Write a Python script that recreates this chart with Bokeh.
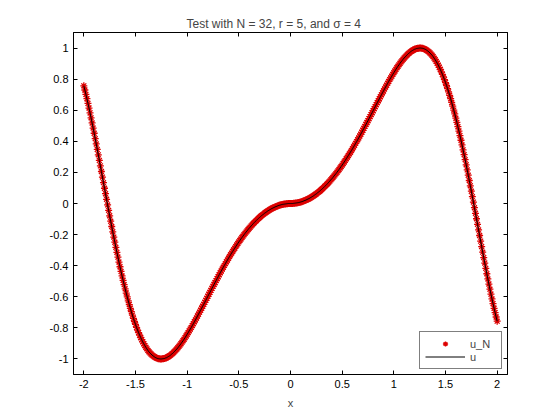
import numpy as np
from bokeh.plotting import figure
from bokeh.models import Range1d, LinearAxis, FixedTicker, Legend, LegendItem, ColumnDataSource
from bokeh.embed import file_html
from bokeh.resources import INLINE

# ---- data -------------------------------------------------------------
x_start, x_stop, n_points = -2.0, 2.0, 401
x_values = np.round(np.linspace(x_start, x_stop, n_points), 2)

u_N_values = [
    0.757, 0.730, 0.702, 0.674, 0.644, 0.614, 0.583, 0.551, 0.518, 0.485, 0.452,
    0.417, 0.383, 0.348, 0.313, 0.277, 0.242, 0.206, 0.170, 0.134, 0.098,
    0.063, 0.027, -0.009, -0.044, -0.079, -0.114, -0.148, -0.182, -0.216, -0.249,
    -0.282, -0.314, -0.345, -0.377, -0.407, -0.437, -0.466, -0.494, -0.522, -0.549,
    -0.576, -0.601, -0.626, -0.650, -0.674, -0.696, -0.718, -0.739, -0.759, -0.778,
    -0.797, -0.814, -0.831, -0.847, -0.862, -0.876, -0.890, -0.902, -0.914, -0.925,
    -0.935, -0.945, -0.954, -0.961, -0.968, -0.975, -0.980, -0.985, -0.990, -0.993,
    -0.996, -0.998, -0.999, -1.000, -1.000, -0.999, -0.998, -0.997, -0.994, -0.992,
    -0.988, -0.984, -0.980, -0.975, -0.969, -0.964, -0.957, -0.950, -0.943, -0.936,
    -0.928, -0.919, -0.911, -0.902, -0.892, -0.883, -0.873, -0.863, -0.852, -0.841,
    -0.831, -0.819, -0.808, -0.797, -0.785, -0.773, -0.761, -0.749, -0.737, -0.724,
    -0.712, -0.699, -0.687, -0.674, -0.661, -0.649, -0.636, -0.623, -0.610, -0.597,
    -0.584, -0.572, -0.559, -0.546, -0.533, -0.521, -0.508, -0.496, -0.483, -0.471,
    -0.458, -0.446, -0.434, -0.422, -0.410, -0.398, -0.387, -0.375, -0.364, -0.352,
    -0.341, -0.330, -0.319, -0.309, -0.298, -0.288, -0.277, -0.267, -0.257, -0.247,
    -0.238, -0.228, -0.219, -0.210, -0.201, -0.192, -0.184, -0.176, -0.167, -0.159,
    -0.152, -0.144, -0.137, -0.129, -0.122, -0.115, -0.109, -0.102, -0.096, -0.090,
    -0.084, -0.078, -0.073, -0.068, -0.062, -0.058, -0.053, -0.048, -0.044, -0.040,
    -0.036, -0.032, -0.029, -0.026, -0.022, -0.020, -0.017, -0.014, -0.012, -0.010,
    -0.008, -0.006, -0.005, -0.004, -0.003, -0.002, -0.001, 0.000, 0.000,
    0.000,
    0.000, 0.000, 0.001, 0.002, 0.003, 0.004, 0.005, 0.006, 0.008,
    0.010, 0.012, 0.014, 0.017, 0.020, 0.022, 0.026, 0.029, 0.032, 0.036,
    0.040, 0.044, 0.048, 0.053, 0.058, 0.062, 0.068, 0.073, 0.078, 0.084,
    0.090, 0.096, 0.102, 0.109, 0.115, 0.122, 0.129, 0.137, 0.144, 0.152,
    0.159, 0.167, 0.176, 0.184, 0.192, 0.201, 0.210, 0.219, 0.228, 0.238,
    0.247, 0.257, 0.267, 0.277, 0.288, 0.298, 0.309, 0.319, 0.330, 0.341,
    0.352, 0.364, 0.375, 0.387, 0.398, 0.410, 0.422, 0.434, 0.446, 0.458,
    0.471, 0.483, 0.496, 0.508, 0.521, 0.533, 0.546, 0.559, 0.572, 0.584,
    0.597, 0.610, 0.623, 0.636, 0.649, 0.661, 0.674, 0.687, 0.699, 0.712,
    0.724, 0.737, 0.749, 0.761, 0.773, 0.785, 0.797, 0.808, 0.819, 0.831,
    0.841, 0.852, 0.863, 0.873, 0.883, 0.892, 0.902, 0.911, 0.919, 0.928,
    0.936, 0.943, 0.950, 0.957, 0.964, 0.969, 0.975, 0.980, 0.984, 0.988,
    0.992, 0.994, 0.997, 0.998, 0.999, 1.000, 1.000, 0.999, 0.998, 0.996,
    0.993, 0.990, 0.985, 0.980, 0.975, 0.968, 0.961, 0.954, 0.945, 0.935,
    0.925, 0.914, 0.902, 0.890, 0.876, 0.862, 0.847, 0.831, 0.814, 0.797,
    0.778, 0.759, 0.739, 0.718, 0.696, 0.674, 0.650, 0.626, 0.601, 0.576,
    0.549, 0.522, 0.494, 0.466, 0.437, 0.407, 0.377, 0.345, 0.314, 0.282,
    0.249, 0.216, 0.182, 0.148, 0.114, 0.079, 0.044, 0.009, -0.027, -0.063,
    -0.098, -0.134, -0.170, -0.206, -0.242, -0.277, -0.313, -0.348, -0.383, -0.417,
    -0.452, -0.485, -0.518, -0.551, -0.583, -0.614, -0.644, -0.674, -0.702, -0.730, -0.757,
]
u_values = list(u_N_values)  # exact solution coincides with u_N at plot resolution

x_ticks = [-2, -1.5, -1, -0.5, 0, 0.5, 1, 1.5, 2]
x_tick_labels = ["-2", "-1.5", "-1", "-0.5", "0", "0.5", "1", "1.5", "2"]
y_ticks = [-1, -0.8, -0.6, -0.4, -0.2, 0, 0.2, 0.4, 0.6, 0.8, 1]
y_tick_labels = ["-1", "-0.8", "-0.6", "-0.4", "-0.2", "0", "0.2", "0.4", "0.6", "0.8", "1"]

title_text = "Test with N = 32, r = 5, and \u03c3 = 4"
series_labels = ["u_N", "u"]

FONT = "Liberation Sans"

# ---- figure -----------------------------------------------------------
p = figure(width=560, height=420, output_backend="svg", toolbar_location=None,
           x_range=Range1d(-2.1, 2.1), y_range=Range1d(-1.1, 1.1),
           min_border_left=73, min_border_right=53, min_border_top=32,
           min_border_bottom=46)
p.background_fill_color = "white"
p.border_fill_color = "white"
p.outline_line_color = "black"
p.outline_line_width = 1
p.xgrid.visible = False
p.ygrid.visible = False

p.title.text = title_text
p.title.text_font = FONT
p.title.text_font_size = "12px"
p.title.text_font_style = "normal"
p.title.align = "left"
p.title.offset = 113
p.title.standoff = 0
p.title.vertical_align = "top"

src = ColumnDataSource(dict(x=x_values, uN=u_N_values, u=u_values))

r_pts = p.scatter("x", "uN", source=src, marker="asterisk", size=7,
                  line_color="#dd0000", line_width=1.3)
r_line = p.line("x", "u", source=src, line_color="black", line_width=1)


def style_axis(ax, ticks, labels, show_labels=True):
    ax.ticker = FixedTicker(ticks=ticks)
    ax.axis_line_color = "black"
    ax.major_tick_line_color = "black"
    ax.major_tick_in = 4
    ax.major_tick_out = 0
    ax.minor_tick_line_color = None
    ax.major_label_text_font = FONT
    if show_labels:
        ax.major_label_overrides = {t: l for t, l in zip(ticks, labels)}
        ax.major_label_text_font_size = "11px"
        ax.major_label_text_color = "black"
        ax.major_label_standoff = 5
    else:
        ax.major_label_text_font_size = "4px"
        ax.major_label_text_color = None
        ax.major_label_standoff = 0


style_axis(p.xaxis[0], x_ticks, x_tick_labels)
style_axis(p.yaxis[0], y_ticks, y_tick_labels)
p.xaxis[0].axis_label = "x"
p.xaxis[0].axis_label_text_font = FONT
p.xaxis[0].axis_label_text_font_size = "11px"
p.xaxis[0].axis_label_text_font_style = "normal"
p.xaxis[0].axis_label_standoff = 6

top_ax = LinearAxis()
style_axis(top_ax, x_ticks, x_tick_labels, show_labels=False)
p.add_layout(top_ax, "above")
right_ax = LinearAxis()
style_axis(right_ax, y_ticks, y_tick_labels, show_labels=False)
p.add_layout(right_ax, "right")

legend = Legend(items=[LegendItem(label=series_labels[0], renderers=[r_pts]),
                       LegendItem(label=series_labels[1], renderers=[r_line])],
                location="bottom_right")
legend.margin = 5
legend.padding = 5
legend.spacing = 0
legend.glyph_width = 40
legend.glyph_height = 13
legend.label_height = 13
legend.label_width = 26
legend.label_standoff = 5
legend.label_text_font = FONT
legend.label_text_font_size = "11px"
legend.border_line_color = "black"
legend.border_line_width = 1
legend.background_fill_color = "white"
legend.background_fill_alpha = 1
p.add_layout(legend)

open("out.html", "w").write(file_html(p, INLINE))
